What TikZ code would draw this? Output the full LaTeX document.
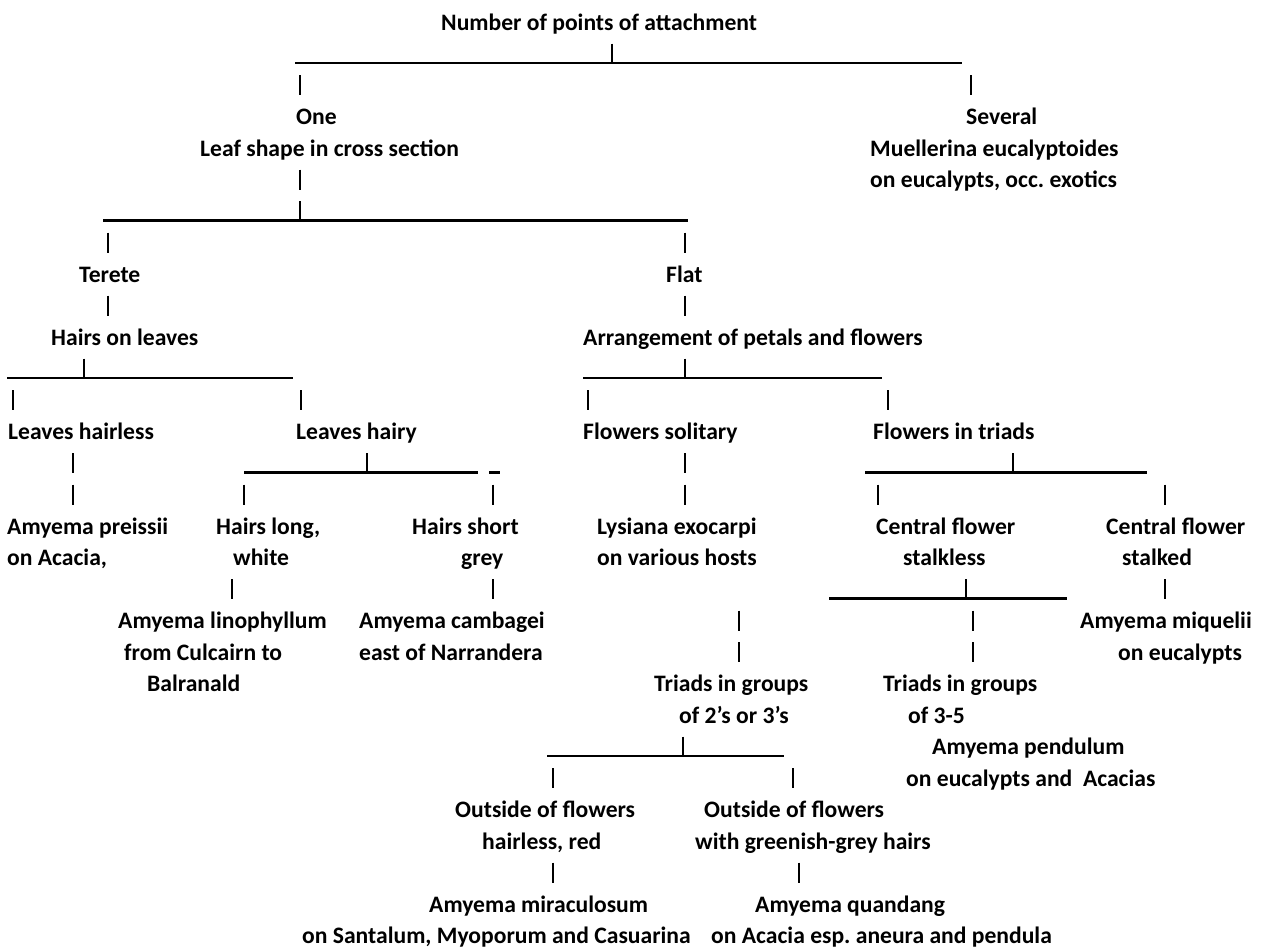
\documentclass[tikz,border=0pt]{standalone}
\usepackage{fontspec}
\setmainfont{Carlito}
\usetikzlibrary{positioning}
\frenchspacing

\begin{document}
\begin{tikzpicture}[
    x=1pt, y=-1pt,
    lbl/.style={
        anchor=base west,
        inner sep=0pt,
        font=\fontsize{23.6}{28}\selectfont\bfseries
    },
    hbar/.style={line width=2.2pt},
    vbar/.style={line width=2.6pt}
]
    \fill[white] (0,0) rectangle (1263,948);
    \useasboundingbox (0,0) rectangle (1263,948);

    % root
    \node[lbl] (attach) at (441,30) {Number of points of attachment};
    \draw[hbar] (295,63) -- (962,63);
    \node[lbl] (one) at (296,124.5) {One};
    \node[lbl] (several) at (966,124.5) {Several};
    \node[lbl] (leafshape) at (200,156) {Leaf shape in cross section};
    \node[lbl] (muellerina) at (870,156) {Muellerina eucalyptoides};
    \node[lbl] (muellhost) at (870,187.5) {on eucalypts, occ. exotics};
    \draw[hbar] (103,220.5) -- (688,220.5);

    % terete branch
    \node[lbl] (terete) at (79,282) {Terete};
    \node[lbl] (hairs) at (51,345) {Hairs on leaves};
    \draw[hbar] (7,378) -- (293,378);
    \node[lbl] (hairless) at (8,439.5) {Leaves hairless};
    \node[lbl] (hairy) at (296,439.5) {Leaves hairy};
    \draw[hbar] (244,472.5) -- (478,472.5);
    \draw[hbar] (489,472.5) -- (500,472.5);
    \node[lbl] (preissii) at (7,534) {Amyema preissii};
    \node[lbl] (preisshost) at (7,565.5) {on Acacia,};
    \node[lbl] (hlong) at (216,534) {Hairs long,};
    \node[lbl] (hwhite) at (233,565.5) {white};
    \node[lbl] (hshort) at (412,534) {Hairs short};
    \node[lbl] (hgrey) at (461,565.5) {grey};
    \node[lbl] (lino) at (118,628.5) {Amyema linophyllum};
    \node[lbl] (linohost) at (124,660) {from Culcairn to};
    \node[lbl] (linohost2) at (147,691.5) {Balranald};
    \node[lbl] (cambagei) at (359,628.5) {Amyema cambagei};
    \node[lbl] (cambhost) at (359,660) {east of Narrandera};

    % flat branch
    \node[lbl] (flat) at (666,282) {Flat};
    \node[lbl] (arrange) at (583,345) {Arrangement of petals and flowers};
    \draw[hbar] (583,378) -- (882,378);
    \node[lbl] (solitary) at (583,439.5) {Flowers solitary};
    \node[lbl] (triads) at (873,439.5) {Flowers in triads};
    \draw[hbar] (865,472.5) -- (1147,472.5);
    \node[lbl] (lysiana) at (597,534) {Lysiana exocarpi};
    \node[lbl] (lyshost) at (597,565.5) {on various hosts};
    \node[lbl] (centralA) at (876,534) {Central flower};
    \node[lbl] (stalkless) at (903,565.5) {stalkless};
    \node[lbl] (centralB) at (1106,534) {Central flower};
    \node[lbl] (stalked) at (1122,565.5) {stalked};
    \draw[hbar] (829,598.5) -- (1067,598.5);
    \node[lbl] (miquelii) at (1080,628.5) {Amyema miquelii};
    \node[lbl] (miqhost) at (1118,660) {on eucalypts};
    \node[lbl] (groupsA) at (654,691.5) {Triads in groups};
    \node[lbl] (groupsA2) at (679,723) {of 2’s or 3’s};
    \node[lbl] (groupsB) at (883,691.5) {Triads in groups};
    \node[lbl] (groupsB2) at (908,723) {of 3-5};
    \node[lbl] (pendulum) at (932,754.5) {Amyema pendulum};
    \node[lbl] (pendhost) at (906,786) {on eucalypts and\ \ Acacias};
    \draw[hbar] (547,756) -- (784,756);
    \node[lbl] (outsideA) at (455,817.5) {Outside of flowers};
    \node[lbl] (outsideA2) at (482,849) {hairless, red};
    \node[lbl] (outsideB) at (704,817.5) {Outside of flowers};
    \node[lbl] (outsideB2) at (695,849) {with greenish-grey hairs};
    \node[lbl] (miraculosum) at (429,912) {Amyema miraculosum};
    \node[lbl] (mirahost) at (302,943.5) {on Santalum, Myoporum and Casuarina};
    \node[lbl] (quandang) at (755,912) {Amyema quandang};
    \node[lbl] (quanhost) at (711,943.5) {on Acacia esp. aneura and pendula};

    % pipes: x / baseline
    \foreach \x/\b in {612/61.5, 300/93, 971/93, 300/187.5, 300/219,
        108/250.5, 685/250.5, 108/313.5, 685/313.5,
        84/376.5, 685/376.5, 13/408, 301/408, 588/408, 888/408,
        73/471, 367/471, 685/471, 1013/471,
        73/502.5, 244/502.5, 493/502.5, 685/502.5, 878/502.5, 1165/502.5,
        232/597, 493/597, 966/597, 1165/597,
        739/628.5, 973/628.5, 739/660, 973/660,
        683/754.5, 553/786, 793/786, 553/880.5, 799/880.5}
        \draw[vbar] (\x,\b-18) -- (\x,\b+2);
\end{tikzpicture}
\end{document}
